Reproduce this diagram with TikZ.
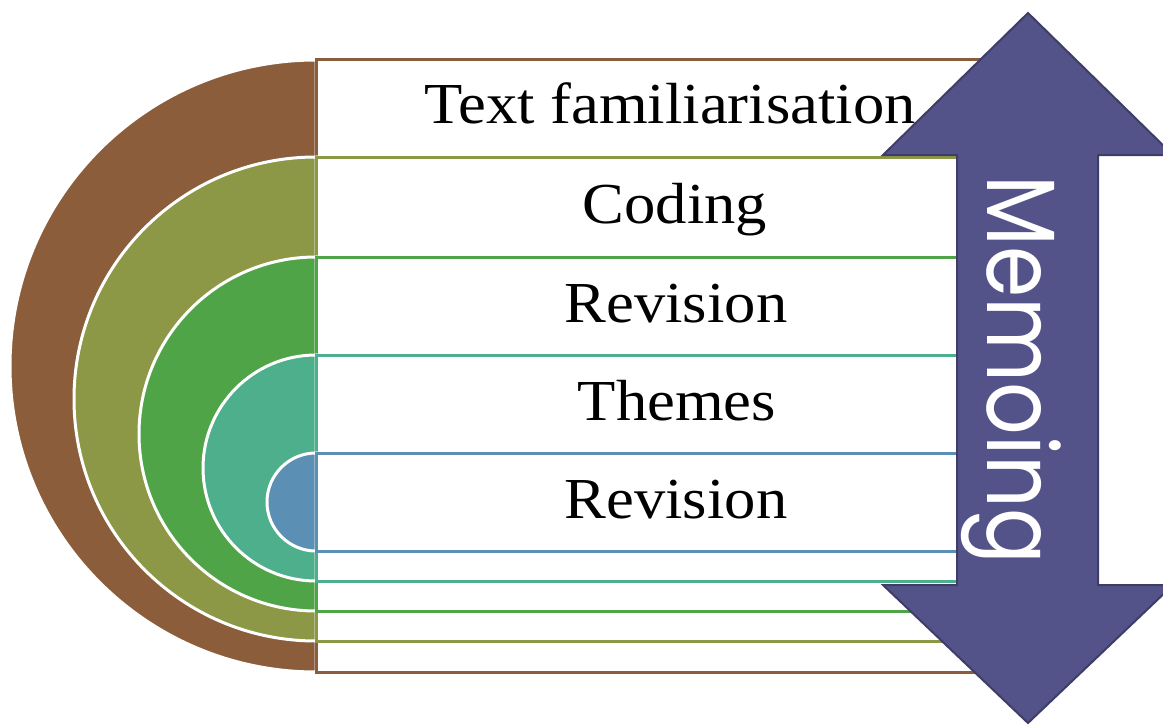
\documentclass[tikz,border=0pt]{standalone}
\usepackage{fontspec}
\setmainfont{Liberation Serif}
\newfontfamily\memofont{Poppins}
\definecolor{cbrown}{HTML}{8B5D3B}
\definecolor{colive}{HTML}{8C9845}
\definecolor{cgreen}{HTML}{50A448}
\definecolor{cteal}{HTML}{4DAF8B}
\definecolor{cblue}{HTML}{5B90B4}
\definecolor{arrfill}{HTML}{545389}
\definecolor{arrline}{HTML}{3F3D67}
\tikzset{
  disc/.style={fill=#1, draw=white, line width=3pt},
  band/.style={fill=white, draw=#1, line width=3pt},
  lbl/.style={anchor=base, inner sep=0pt, font=\fontsize{58}{66}\selectfont},
  bigarrow/.style={fill=arrfill, draw=arrline, line width=2pt, line join=miter}
}
\newcommand{\wide}[1]{\scalebox{1.08}[1]{#1}}
\begin{document}
\begin{tikzpicture}[x=1pt,y=-1pt]
\useasboundingbox (0,0) rectangle (1163,725);
\clip (0,0) rectangle (1163,725);
% level 1 brown
\path[disc=cbrown] (316,60) arc[start angle=90, end angle=270, radius=306pt] -- cycle;
\path[band=cbrown] (316,60) rectangle (1040,672);
% level 2 olive
\path[disc=colive] (316,157) arc[start angle=90, end angle=270, radius=242pt] -- cycle;
\path[band=colive] (316,157) rectangle (1040,641);
% level 3 green
\path[disc=cgreen] (316,257) arc[start angle=90, end angle=270, radius=177pt] -- cycle;
\path[band=cgreen] (316,257) rectangle (1040,611);
% level 4 teal
\path[disc=cteal] (316,355) arc[start angle=90, end angle=270, radius=113pt] -- cycle;
\path[band=cteal] (316,355) rectangle (1040,581);
% level 5 blue
\path[disc=cblue] (316,453) arc[start angle=90, end angle=270, radius=49pt] -- cycle;
\path[band=cblue] (316,453) rectangle (1040,551);
% labels
\node[lbl] (t1) at (670,124) {\wide{Text familiarisation}};
\node[lbl] (t2) at (675,223) {\wide{Coding}};
\node[lbl] (t3) at (676,322) {\wide{Revision}};
\node[lbl] (t4) at (677,420) {\wide{Themes}};
\node[lbl] (t5) at (676,518) {\wide{Revision}};
% double arrow
\path[bigarrow] (1028,13) -- (1173,155) -- (1098,155) -- (1098,585) -- (1173,585)
  -- (1028,723) -- (883,585) -- (957,585) -- (957,155) -- (883,155) -- cycle;
\node[rotate=-90, anchor=base, inner sep=0pt, text=white,
  font=\memofont\fontsize{97}{110}\selectfont] (memo) at (987,370) {\scalebox{0.85}[1]{Memoing}};
\end{tikzpicture}
\end{document}
